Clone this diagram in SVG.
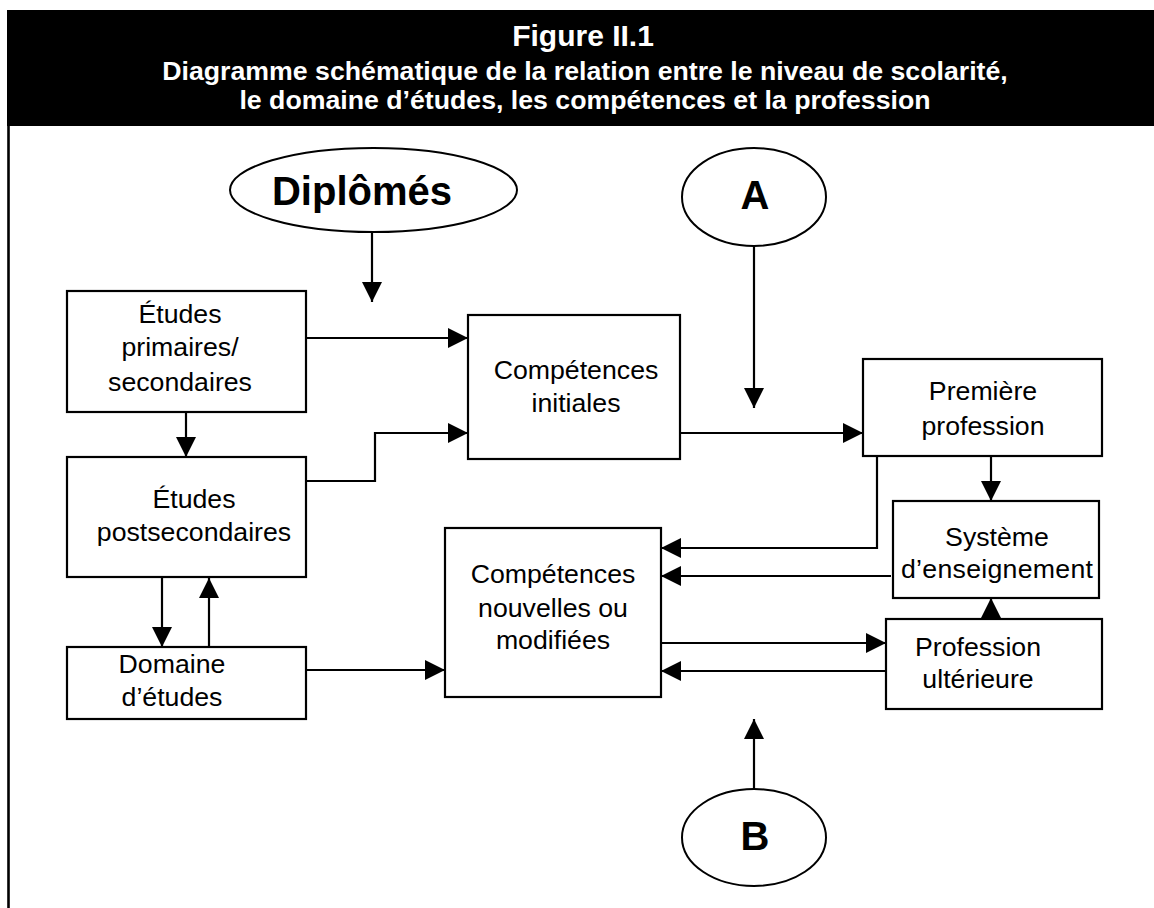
<svg xmlns="http://www.w3.org/2000/svg" width="1154" height="908" viewBox="0 0 1154 908">
<defs>
<marker id="ah" markerUnits="userSpaceOnUse" markerWidth="20" markerHeight="20" refX="20" refY="10" orient="auto">
<path d="M0,0 L20,10 L0,20 Z" fill="#000"/>
</marker>
<style>
.box{fill:#fff;stroke:#000;stroke-width:2.2}
.ell{fill:#fff;stroke:#000;stroke-width:2}
.t{font-family:"Liberation Sans",Arial,sans-serif;font-size:26.7px;fill:#000;text-anchor:middle}
.big{font-family:"Liberation Sans",Arial,sans-serif;font-weight:bold;font-size:40px;fill:#000;text-anchor:middle}
.hd{font-family:"Liberation Sans",Arial,sans-serif;font-weight:bold;fill:#fff;text-anchor:middle}
.c{fill:none;stroke:#000;stroke-width:2.2;marker-end:url(#ah)}
.l{fill:none;stroke:#000;stroke-width:2.2}
</style>
</defs>
<rect width="1154" height="908" fill="#fff"/>
<g id="header">
<rect x="7" y="10" width="1147" height="116" fill="#000"/>
<text class="hd" x="583" y="46" font-size="30">Figure II.1</text>
<text class="hd" x="585" y="80" font-size="26.7">Diagramme schématique de la relation entre le niveau de scolarité,</text>
<text class="hd" x="585" y="109" font-size="26.7">le domaine d’études, les compétences et la profession</text>
</g>
<line x1="8.5" y1="126" x2="8.5" y2="908" stroke="#000" stroke-width="2.6"/>
<g id="connectors">
<path class="c" d="M372,232 V302"/>
<path class="c" d="M754,246 V408"/>
<path class="c" d="M754,789 V719"/>
<path class="c" d="M306,338 H468"/>
<path class="c" d="M306,481 H375 V433 H468"/>
<path class="c" d="M186,412 V457"/>
<path class="c" d="M162,577 V647"/>
<path class="c" d="M209,647 V578"/>
<path class="c" d="M306,670 H445"/>
<path class="c" d="M680,433 H863"/>
<path class="c" d="M877,456 V548 H661"/>
<path class="c" d="M891,576 H661"/>
<path class="c" d="M661,643 H886"/>
<path class="c" d="M886,671 H661"/>
<path class="c" d="M991,456 V501"/>
<path class="c" d="M991,619 V598"/>
</g>
<g id="diplomes">
<ellipse class="ell" cx="373.5" cy="190" rx="143.5" ry="42"/>
<text class="big" x="362" y="205">Diplômés</text>
</g>
<g id="nodeA">
<ellipse class="ell" cx="754" cy="197" rx="72" ry="49"/>
<text class="big" x="755" y="209">A</text>
</g>
<g id="nodeB">
<ellipse class="ell" cx="754" cy="837.5" rx="72" ry="48.5"/>
<text class="big" x="755" y="850">B</text>
</g>
<g id="etudes-primaires">
<rect class="box" x="67" y="291" width="239" height="121"/>
<text class="t" x="180" y="323">Études</text>
<text class="t" x="180" y="356">primaires/</text>
<text class="t" x="180" y="391">secondaires</text>
</g>
<g id="etudes-postsecondaires">
<rect class="box" x="67" y="457" width="239" height="120"/>
<text class="t" x="194" y="508">Études</text>
<text class="t" x="194" y="541">postsecondaires</text>
</g>
<g id="domaine">
<rect class="box" x="67" y="647" width="239" height="72"/>
<text class="t" x="172" y="673">Domaine</text>
<text class="t" x="172" y="706">d’études</text>
</g>
<g id="competences-initiales">
<rect class="box" x="468" y="315" width="212" height="144"/>
<text class="t" x="576" y="379">Compétences</text>
<text class="t" x="576" y="412">initiales</text>
</g>
<g id="competences-nouvelles">
<rect class="box" x="445" y="528" width="216" height="169"/>
<text class="t" x="553" y="583">Compétences</text>
<text class="t" x="553" y="617">nouvelles ou</text>
<text class="t" x="553" y="649">modifiées</text>
</g>
<g id="premiere-profession">
<rect class="box" x="863" y="359" width="239" height="97"/>
<text class="t" x="983" y="400">Première</text>
<text class="t" x="983" y="435">profession</text>
</g>
<g id="systeme">
<rect class="box" x="893" y="501" width="206" height="97"/>
<text class="t" x="997" y="546">Système</text>
<text class="t" x="997" y="578" textLength="192">d’enseignement</text>
</g>
<g id="profession-ulterieure">
<rect class="box" x="886" y="619" width="216" height="90"/>
<text class="t" x="978" y="656">Profession</text>
<text class="t" x="978" y="688">ultérieure</text>
</g>
</svg>
